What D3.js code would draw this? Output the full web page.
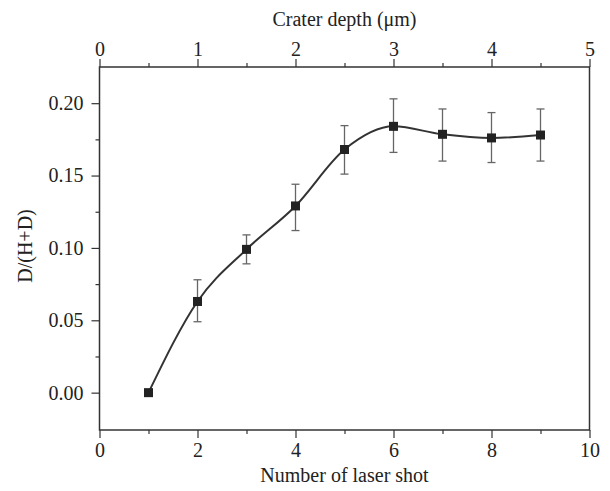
<!DOCTYPE html>
<html><head><meta charset="utf-8">
<script src="https://cdn.jsdelivr.net/npm/d3@7"></script>
<style>body{margin:0;background:#fff}text{font-family:"Liberation Serif","Times New Roman",serif;fill:#222}</style>
</head><body><svg id="c" width="610" height="491"></svg>
<script>
const shots = [1, 2, 3, 4, 5, 6, 7, 8, 9];
const ratio = [0.000, 0.063, 0.099, 0.129, 0.168, 0.184, 0.1785, 0.176, 0.178];
const errLow = [null, 0.049, 0.089, 0.112, 0.151, 0.166, 0.160, 0.159, 0.160];
const errHigh = [null, 0.078, 0.109, 0.144, 0.1845, 0.203, 0.196, 0.1935, 0.196];
const bottomTicks = [0, 2, 4, 6, 8, 10];
const topTicks = [0, 1, 2, 3, 4, 5];
const yTicks = [0.00, 0.05, 0.10, 0.15, 0.20];

const L = 99.5, R = 589.5, T = 67, B = 430;
const svg = d3.select("#c");
const x = d3.scaleLinear().domain([0, 10]).range([L, R]);
const xTop = d3.scaleLinear().domain([0, 5]).range([L, R]);
const y = d3.scaleLinear().domain([-0.0258, 0.225]).range([B, T]);
const stroke = "#333";

svg.append("rect").attr("x", L).attr("y", T).attr("width", R - L).attr("height", B - T)
  .attr("fill", "none").attr("stroke", stroke).attr("stroke-width", 1.5);

const gb = svg.append("g").attr("transform", `translate(0,${B})`)
  .call(d3.axisBottom(x).tickValues(bottomTicks).tickSize(8).tickFormat(d3.format("d")));
svg.append("g").attr("transform", `translate(0,${B})`)
  .call(d3.axisBottom(x).tickValues([1, 3, 5, 7, 9]).tickSize(4).tickFormat(""));
svg.append("g").attr("transform", `translate(0,${T})`)
  .call(d3.axisTop(xTop).tickValues(topTicks).tickSize(8).tickFormat(d3.format("d")));
svg.append("g").attr("transform", `translate(0,${T})`)
  .call(d3.axisTop(xTop).tickValues([0.5, 1.5, 2.5, 3.5, 4.5]).tickSize(4).tickFormat(""));
svg.append("g").attr("transform", `translate(${L},0)`)
  .call(d3.axisLeft(y).tickValues(yTicks).tickSize(8).tickPadding(8).tickFormat(d3.format(".2f")));
svg.append("g").attr("transform", `translate(${L},0)`)
  .call(d3.axisLeft(y).tickValues([0.025, 0.075, 0.125, 0.175]).tickSize(4).tickFormat(""));

svg.selectAll(".domain").remove();
svg.selectAll(".tick line").attr("stroke", stroke).attr("stroke-width", 1.2);
svg.selectAll(".tick text").attr("font-size", 20).attr("fill", "#222")
  .attr("font-family", "'Liberation Serif', serif");
gb.selectAll(".tick text").attr("y", 13);

svg.append("text").attr("x", (L + R) / 2).attr("y", 482).attr("text-anchor", "middle")
  .attr("font-size", 20).text("Number of laser shot");
svg.append("text").attr("x", (L + R) / 2).attr("y", 26).attr("text-anchor", "middle")
  .attr("font-size", 20).text("Crater depth (μm)");
svg.append("text").attr("transform", `translate(32,246) rotate(-90)`).attr("text-anchor", "middle")
  .attr("font-size", 20).text("D/(H+D)");

const data = shots.map((s, i) => ({ s, v: ratio[i], lo: errLow[i], hi: errHigh[i] }));
const eb = svg.append("g").attr("stroke", "#666").attr("stroke-width", 1.3);
data.filter(d => d.lo !== null).forEach(d => {
  eb.append("line").attr("x1", x(d.s)).attr("x2", x(d.s)).attr("y1", y(d.lo)).attr("y2", y(d.hi));
  [d.lo, d.hi].forEach(v => eb.append("line").attr("x1", x(d.s) - 4).attr("x2", x(d.s) + 4)
    .attr("y1", y(v)).attr("y2", y(v)));
});

const line = d3.line().x(d => x(d.s)).y(d => y(d.v)).curve(d3.curveMonotoneX);
svg.append("path").datum(data).attr("d", line).attr("fill", "none")
  .attr("stroke", "#333").attr("stroke-width", 2);

svg.append("g").selectAll("rect").data(data).join("rect")
  .attr("x", d => x(d.s) - 4.5).attr("y", d => y(d.v) - 4.5)
  .attr("width", 9).attr("height", 9).attr("fill", "#222");
</script></body></html>
